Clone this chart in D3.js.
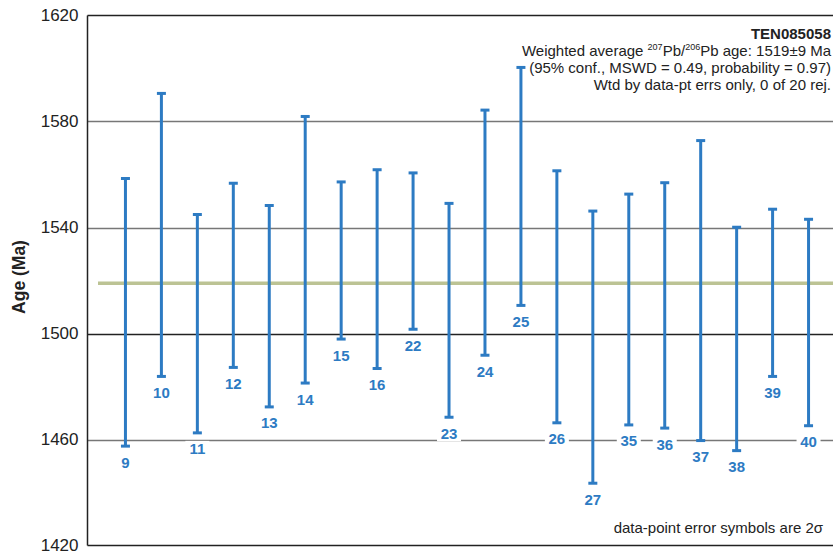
<!DOCTYPE html>
<html>
<head>
<meta charset="utf-8">
<script src="https://cdn.jsdelivr.net/npm/d3@7"></script>
<style>
  html, body { margin: 0; padding: 0; background: #fff; }
  svg { display: block; font-family: "Liberation Sans", Arial, Helvetica, sans-serif; }
</style>
</head>
<body>
<svg id="chart" width="833" height="554"></svg>
<script>
// Spot (analysis) numbers, in plotting order
const spots = ["9", "10", "11", "12", "13", "14", "15", "16", "22", "23",
               "24", "25", "26", "27", "35", "36", "37", "38", "39", "40"];
// 2-sigma error box: upper and lower age limits (Ma)
const upper = [1558.5, 1590.6, 1544.9, 1556.7, 1548.3, 1581.9, 1557.2, 1561.8, 1560.6, 1549.1,
               1584.3, 1600.4, 1561.4, 1546.2, 1552.6, 1556.9, 1572.8, 1540.1, 1546.9, 1543.1];
const lower = [1457.5, 1483.8, 1462.5, 1487.2, 1472.3, 1481.3, 1497.9, 1486.8, 1501.6, 1468.4,
               1491.8, 1510.6, 1466.3, 1443.5, 1465.5, 1464.3, 1459.6, 1455.8, 1483.8, 1465.2];
// Weighted mean age and y-axis ticks
const weightedMean = 1519;
const yTicks = [1420, 1460, 1500, 1540, 1580, 1620];

(function draw() {
  const svg = d3.select("#chart");
  const plotLeft = 87.5, plotTop = 15.5, plotBottom = 545.5, plotRight = 833;

  const y = d3.scaleLinear().domain([1420, 1620]).range([plotBottom, plotTop]);
  const x = d3.scaleLinear().domain([0, spots.length + 1]).range([89.5, 844.5]);

  const blue = "#2d7bc3";

  // Horizontal gridlines (1500 drawn darker)
  svg.append("g").selectAll("line")
    .data(yTicks.filter(t => t !== 1420 && t !== 1620))
    .join("line")
    .attr("x1", plotLeft).attr("x2", plotRight)
    .attr("y1", d => Math.round(y(d)) + 0.5).attr("y2", d => Math.round(y(d)) + 0.5)
    .attr("stroke", d => d === 1500 ? "#222" : "#777")
    .attr("stroke-width", 1.3);

  // Frame: top line, bottom axis, left axis
  svg.append("line").attr("x1", plotLeft).attr("x2", plotRight).attr("y1", plotTop).attr("y2", plotTop)
    .attr("stroke", "#222").attr("stroke-width", 1.5);
  svg.append("line").attr("x1", plotLeft).attr("x2", plotRight).attr("y1", plotBottom).attr("y2", plotBottom)
    .attr("stroke", "#222").attr("stroke-width", 1.5);
  svg.append("line").attr("x1", plotLeft).attr("x2", plotLeft).attr("y1", plotTop).attr("y2", plotBottom)
    .attr("stroke", "#222").attr("stroke-width", 1.5);

  // Y tick labels via d3 axis (ticks hidden, labels only)
  const yAxis = d3.axisLeft(y).tickValues(yTicks).tickSize(0).tickPadding(9).tickFormat(d3.format("d"));
  const gy = svg.append("g").attr("transform", `translate(${plotLeft},0)`).call(yAxis);
  gy.select(".domain").remove();
  gy.selectAll("text")
    .attr("font-family", "'Liberation Sans', Arial, Helvetica, sans-serif")
    .attr("font-size", 17).attr("fill", "#222");

  // Axis title
  svg.append("text")
    .attr("transform", "translate(24.5,277) rotate(-90)")
    .attr("text-anchor", "middle")
    .attr("font-size", 17.5).attr("font-weight", "bold").attr("fill", "#222")
    .text("Age (Ma)");

  // Weighted mean line
  svg.append("line")
    .attr("x1", 98).attr("x2", plotRight)
    .attr("y1", y(weightedMean)).attr("y2", y(weightedMean))
    .attr("stroke", "#bcc394").attr("stroke-width", 3.5);

  // Error bars
  const bars = svg.append("g").selectAll("g")
    .data(spots.map((s, i) => ({ s, i: i + 1, hi: upper[i], lo: lower[i] })))
    .join("g");

  bars.append("line")
    .attr("x1", d => x(d.i)).attr("x2", d => x(d.i))
    .attr("y1", d => y(d.hi)).attr("y2", d => y(d.lo))
    .attr("stroke", blue).attr("stroke-width", 3);
  bars.append("line")
    .attr("x1", d => x(d.i) - 4.5).attr("x2", d => x(d.i) + 4.5)
    .attr("y1", d => y(d.hi)).attr("y2", d => y(d.hi))
    .attr("stroke", blue).attr("stroke-width", 3);
  bars.append("line")
    .attr("x1", d => x(d.i) - 4.5).attr("x2", d => x(d.i) + 4.5)
    .attr("y1", d => y(d.lo)).attr("y2", d => y(d.lo))
    .attr("stroke", blue).attr("stroke-width", 3);

  // Spot labels with white backing
  bars.each(function (d) {
    const g = d3.select(this);
    const w = d.s.length * 9 + 6;
    g.append("rect")
      .attr("x", x(d.i) - w / 2).attr("y", y(d.lo) + 8)
      .attr("width", w).attr("height", 16)
      .attr("fill", "#fff");
    g.append("text")
      .attr("x", x(d.i)).attr("y", y(d.lo) + 21.5)
      .attr("text-anchor", "middle")
      .attr("font-size", 15).attr("font-weight", "bold").attr("fill", blue)
      .text(d.s);
  });

  // Annotation block, top right
  const ax = 831;
  svg.append("text").attr("x", ax).attr("y", 39).attr("text-anchor", "end")
    .attr("font-size", 15).attr("font-weight", "bold").attr("fill", "#222")
    .text("TEN085058");
  const l2 = svg.append("text").attr("x", ax).attr("y", 56).attr("text-anchor", "end")
    .attr("font-size", 15).attr("fill", "#222");
  l2.append("tspan").text("Weighted average ");
  l2.append("tspan").attr("font-size", 9).attr("dy", -6).text("207");
  l2.append("tspan").attr("dy", 6).text("Pb/");
  l2.append("tspan").attr("font-size", 9).attr("dy", -6).text("206");
  l2.append("tspan").attr("dy", 6).text("Pb age: 1519±9 Ma");
  svg.append("text").attr("x", ax).attr("y", 73).attr("text-anchor", "end")
    .attr("font-size", 15).attr("fill", "#222")
    .text("(95% conf., MSWD = 0.49, probability = 0.97)");
  svg.append("text").attr("x", ax).attr("y", 90).attr("text-anchor", "end")
    .attr("font-size", 15).attr("fill", "#222")
    .text("Wtd by data-pt errs only, 0 of 20 rej.");

  // Footnote
  svg.append("text").attr("x", 823).attr("y", 533).attr("text-anchor", "end")
    .attr("font-size", 15).attr("fill", "#222")
    .text("data-point error symbols are 2σ");
})();
</script>
</body>
</html>
